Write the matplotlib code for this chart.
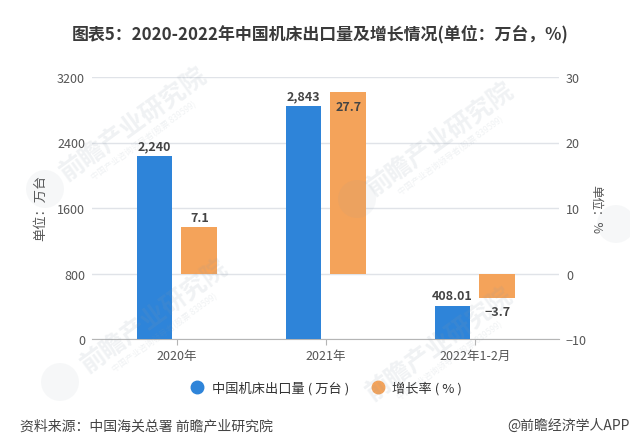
import matplotlib
matplotlib.use('Agg')
import matplotlib.pyplot as plt
from matplotlib.lines import Line2D
from matplotlib.patches import Circle

plt.rcParams['font.family'] = ['Noto Sans CJK SC', 'DejaVu Sans']

categories = ['2020年', '2021年', '2022年1-2月']
export_qty = [2240, 2843, 408.01]
export_labels = ['2,240', '2,843', '408.01']
growth = [7.1, 27.7, -3.7]
growth_labels = ['7.1', '27.7', '−3.7']
left_ticks = [0, 800, 1600, 2400, 3200]
right_ticks = [-10, 0, 10, 20, 30]

BLUE = '#2e84d9'
ORANGE = '#f4a35a'
GRID = '#e0e3e8'
TEXT = '#555555'

W, H = 630, 439


def fx(px):
    return px / W


def fy(py):
    return 1 - py / H


fig = plt.figure(figsize=(6.3, 4.39), dpi=100)
ax = fig.add_axes([fx(92), fy(340), (559 - 92) / W, (340 - 78) / H])
ax2 = ax.twinx()

x = list(range(len(categories)))
bar_w = 0.24
bars1 = ax.bar([i - 0.15 for i in x], export_qty, bar_w, color=BLUE, zorder=3)
bars2 = ax2.bar([i + 0.15 for i in x], growth, bar_w, color=ORANGE, zorder=3)

ax.set_xlim(-0.57, 2.564)
ax.set_ylim(0, 3200)
ax2.set_ylim(-10, 30)
ax.set_yticks(left_ticks)
ax2.set_yticks(right_ticks)
ax.set_xticks(x)
ax.set_xticklabels(categories)
ax.grid(axis='y', color=GRID, lw=1, zorder=0)
ax.set_axisbelow(True)

for a in (ax, ax2):
    for s in ('top', 'left', 'right'):
        a.spines[s].set_visible(False)
    a.spines['bottom'].set_visible(False)
ax.spines['bottom'].set_visible(True)
ax.spines['bottom'].set_color('#b5b5b5')
ax.tick_params(axis='x', length=4, color='#b5b5b5', labelsize=9, labelcolor=TEXT, pad=3)
ax.tick_params(axis='y', length=0, labelsize=9, labelcolor=TEXT, pad=5)
ax2.tick_params(axis='y', length=0, labelsize=9, labelcolor=TEXT, pad=5)

for b, lab in zip(bars1, export_labels):
    ax.annotate(lab, (b.get_x() + b.get_width() / 2, b.get_height()), xytext=(0, 2.5),
                textcoords='offset points', ha='center', va='bottom', fontsize=9,
                fontweight='bold', color='#444444', zorder=5)

ax2.annotate(growth_labels[0], (x[0] + 0.15, growth[0]), xytext=(0, 2.5), textcoords='offset points',
             ha='center', va='bottom', fontsize=9, fontweight='bold', color='#444444', zorder=5)
ax2.annotate(growth_labels[1], (x[1] + 0.15, growth[1]), xytext=(0, -6), textcoords='offset points',
             ha='center', va='top', fontsize=9, fontweight='bold', color='#444444', zorder=5)
ax2.annotate(growth_labels[2], (x[2] + 0.15, growth[2]), xytext=(0, -5), textcoords='offset points',
             ha='center', va='top', fontsize=9, fontweight='bold', color='#444444', zorder=5)

fig.text(fx(320), fy(34), '图表5：2020-2022年中国机床出口量及增长情况(单位：万台，%)', ha='center', va='center',
         fontsize=12.2, fontweight='bold', color='#3a3a3a')
fig.text(fx(41), fy(208), '单位：万台', rotation=90, ha='center', va='center', fontsize=9.5, color=TEXT)
fig.text(fx(596), fy(210), '单位：%', rotation=-90, ha='center', va='center', fontsize=9, color=TEXT)

handles = [Line2D([], [], ls='none', marker='o', ms=9, color=BLUE),
           Line2D([], [], ls='none', marker='o', ms=9, color=ORANGE)]
fig.legend(handles, ['中国机床出口量 ( 万台 )', '增长率 ( % )'], loc='center', bbox_to_anchor=(fx(323), fy(389)),
           ncol=2, frameon=False, fontsize=9.5, handletextpad=0.1, columnspacing=1.2,
           labelcolor='#333333', prop={'weight': 'medium', 'size': 9.5})

fig.text(fx(20), fy(426), '资料来源：中国海关总署 前瞻产业研究院', ha='left', va='center', fontsize=10, color='#444444')
fig.text(fx(630), fy(426), '@前瞻经济学人APP', ha='right', va='center', fontsize=10, color='#444444')

# watermarks
marks = [(134, 125), (441, 140), (155, 317), (440, 345)]
for mx, my in marks:
    fig.text(fx(mx), fy(my), '前瞻产业研究院', rotation=36, ha='center', va='center', fontsize=18,
             color='#8a9aa8', alpha=0.13, fontweight='bold', zorder=10)
    fig.text(fx(mx + 10), fy(my + 16), '中国产业咨询领导者(股票 839599)', rotation=36, ha='center', va='center',
             fontsize=6, color='#8a9aa8', alpha=0.13, zorder=10)
for cx, cy in [(45, 190), (357, 200), (60, 383), (616, 225)]:
    fig.add_artist(Circle((cx, H - cy), 19, transform=None, color='#8a9aa8', alpha=0.07, lw=0, zorder=10))

fig.savefig('out.png', dpi=100)
